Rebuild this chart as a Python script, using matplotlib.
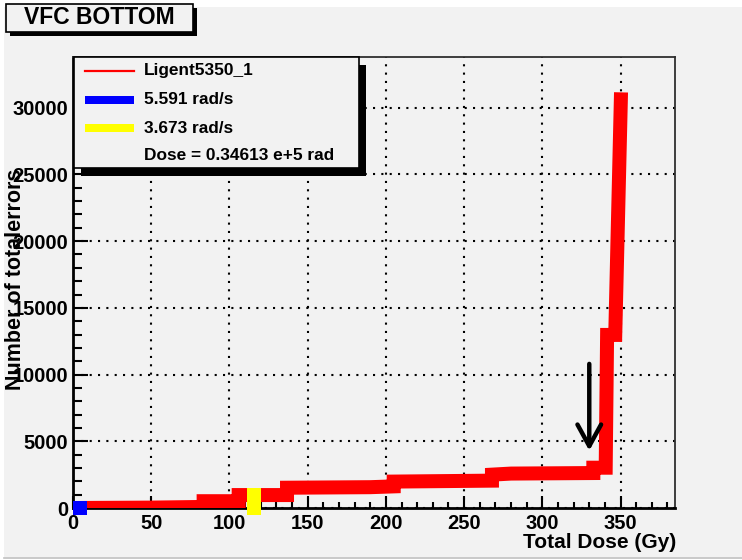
import matplotlib
matplotlib.use("Agg")
import matplotlib.pyplot as plt
from matplotlib.patches import Rectangle
from matplotlib.lines import Line2D
from matplotlib.ticker import MultipleLocator

plt.rcParams['font.family'] = ['Liberation Sans', 'DejaVu Sans']
plt.rcParams['font.weight'] = 'bold'

# ---- data ----
dose = [0, 50, 83.5, 83.5, 105.9, 105.9, 136.8, 136.8, 190, 205, 205, 267.8, 267.8,
        280, 332.6, 332.6, 340.5, 341.4, 346.6, 350.3]
errors = [0, 30, 80, 510, 510, 970, 970, 1520, 1560, 1620, 1980, 2050, 2500,
          2580, 2620, 3020, 3020, 12970, 12970, 31150]
blue_dose = [0, 8.8]
blue_errors = [0, 0]
yellow_dose = [115.8, 115.8]
yellow_errors = [0, 945]
arrow_dose = 330
arrow_from = 10800
arrow_to = 4295

xticks = [0, 50, 100, 150, 200, 250, 300, 350]
yticks = [0, 5000, 10000, 15000, 20000, 25000, 30000]

title = "VFC BOTTOM"
legend_labels = ["Ligent5350_1", "5.591 rad/s", "3.673 rad/s", "Dose = 0.34613 e+5 rad"]
xlabel = "Total Dose (Gy)"
ylabel = "Number of totalerrors"

W, H = 742, 560
GRAY = '#f2f2f2'

fig = plt.figure(figsize=(W / 100, H / 100), dpi=100, facecolor='white')

def fx(px):
    return px / W

def fy(py):
    return 1 - py / H

# background panel
fig.patches.append(Rectangle((fx(4), fy(557)), fx(742) - fx(4), fy(7) - fy(557),
                             transform=fig.transFigure, facecolor=GRAY,
                             edgecolor='none', zorder=-10))
fig.lines.append(Line2D([fx(4), fx(742)], [fy(557.5), fy(557.5)],
                        transform=fig.transFigure, color='#c0c0c0', lw=1.2,
                        zorder=-9))

# axes
L, R, T, B = 73, 675, 57, 508
ax = fig.add_axes([fx(L), fy(B), fx(R) - fx(L), fy(T) - fy(B)])
ax.set_facecolor(GRAY)
ax.set_xlim(0, 384.8)
ax.set_ylim(0, 33800)

ax.grid(True, which='major', color='black', linestyle=(0, (1, 3)), lw=1.5)
ax.set_axisbelow(True)

lw_px = 14 * 72 / 100
ax.plot(dose, errors, color='red', lw=lw_px, solid_joinstyle='miter',
        solid_capstyle='butt', zorder=3)
ax.plot(blue_dose, blue_errors, color='blue', lw=lw_px, solid_capstyle='butt',
        zorder=4, clip_on=False)
ax.plot(yellow_dose, yellow_errors, color='yellow', lw=lw_px,
        solid_capstyle='projecting', zorder=4, clip_on=False)

ax.annotate('', xy=(arrow_dose, arrow_to), xytext=(arrow_dose, arrow_from),
            arrowprops=dict(arrowstyle='->,head_length=1.55,head_width=0.85',
                            lw=3.2, color='black', shrinkA=0, shrinkB=0),
            zorder=5)

ax.set_xticks(xticks)
ax.set_yticks(yticks)
ax.xaxis.set_minor_locator(MultipleLocator(10))
ax.yaxis.set_minor_locator(MultipleLocator(1000))
ax.tick_params(axis='both', which='both', direction='in', top=False, right=False,
               width=1.5, labelsize=14.5)
ax.tick_params(axis='x', which='major', length=9, pad=4)
ax.tick_params(axis='x', which='minor', length=4.5)
ax.tick_params(axis='y', which='major', length=11, pad=3.5)
ax.tick_params(axis='y', which='minor', length=6.5)
for lab in ax.get_xticklabels() + ax.get_yticklabels():
    lab.set_fontweight('bold')

for s in ['left', 'bottom']:
    ax.spines[s].set_linewidth(2)
    ax.spines[s].set_color('black')
for s in ['top', 'right']:
    ax.spines[s].set_linewidth(1.3)
    ax.spines[s].set_color('#303030')

fig.text(fx(676), fy(543), xlabel, ha='right', va='center', fontsize=15,
         fontweight='bold')
fig.text(fx(16), fy(279), ylabel, ha='center', va='center', rotation=90,
         fontsize=15.5, fontweight='bold', zorder=10)

# title box
def box(x0, y0, x1, y1, dx, dy, z):
    fig.patches.append(Rectangle((fx(x0 + dx), fy(y1 + dy)), fx(x1) - fx(x0),
                                 fy(y0) - fy(y1), transform=fig.transFigure,
                                 facecolor='black', edgecolor='none', zorder=z))
    fig.patches.append(Rectangle((fx(x0), fy(y1)), fx(x1) - fx(x0),
                                 fy(y0) - fy(y1), transform=fig.transFigure,
                                 facecolor=GRAY, edgecolor='black', lw=1.2,
                                 zorder=z + 0.1))

box(6, 4, 193, 32, 4, 4, 20)
fig.text(fx(99), fy(18), title, ha='center', va='center', fontsize=16.5,
         fontweight='bold', zorder=21)

# legend box
box(74, 57, 359, 168, 7, 8, 20)
rows = [71, 100, 128.3, 156]
fig.lines.append(Line2D([fx(85), fx(134)], [fy(rows[0])] * 2, transform=fig.transFigure,
                        color='red', lw=1.6, zorder=22))
fig.lines.append(Line2D([fx(85), fx(134)], [fy(rows[1])] * 2, transform=fig.transFigure,
                        color='blue', lw=8 * 72 / 100, solid_capstyle='butt', zorder=22))
fig.lines.append(Line2D([fx(85), fx(134)], [fy(rows[2])] * 2, transform=fig.transFigure,
                        color='yellow', lw=8 * 72 / 100, solid_capstyle='butt', zorder=22))
for r, lab in zip(rows, legend_labels):
    fig.text(fx(144), fy(r), lab, ha='left', va='center', fontsize=12.4,
             fontweight='bold', zorder=22)

fig.savefig('out.png', dpi=100, facecolor='white')
